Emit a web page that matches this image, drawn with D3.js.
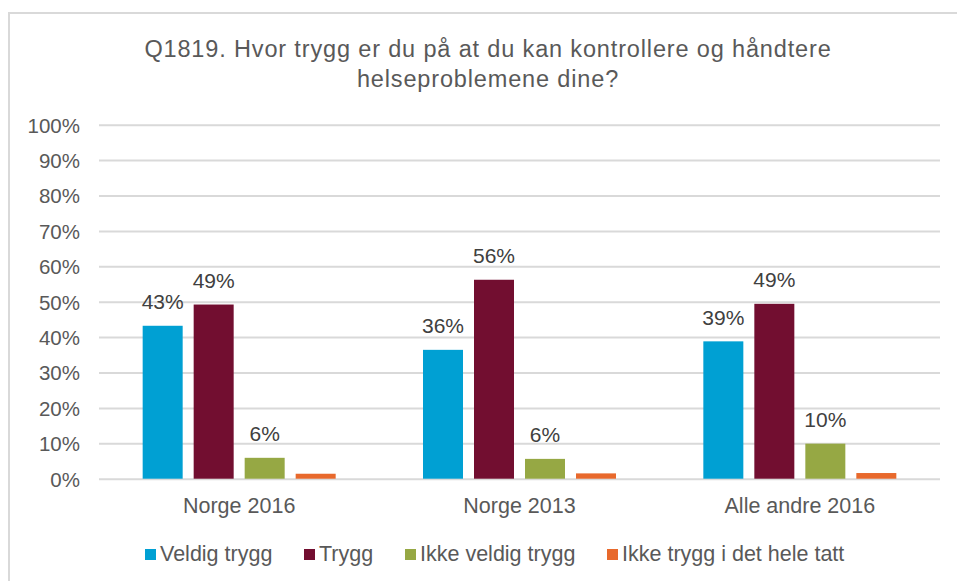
<!DOCTYPE html>
<html><head><meta charset="utf-8">
<script src="https://cdn.jsdelivr.net/npm/d3@7"></script>
<style>body{margin:0;background:#fff}svg{display:block}text{font-family:"Liberation Sans",Arial,sans-serif}</style>
</head><body><svg id="c" width="957" height="581"></svg>
<script>
const categories = ["Norge 2016", "Norge 2013", "Alle andre 2016"];
const seriesNames = ["Veldig trygg", "Trygg", "Ikke veldig trygg", "Ikke trygg i det hele tatt"];
const veldigTrygg = [43.2, 36.4, 38.8];
const trygg = [49.2, 56.2, 49.4];
const ikkeVeldigTrygg = [5.9, 5.6, 9.9];
const ikkeTryggIHele = [1.4, 1.5, 1.6];
const showLabels = [true, true, true, false];
const yTicks = [0,10,20,30,40,50,60,70,80,90,100];
const colors = ["#00A0D3", "#720E30", "#96A844", "#E8692C"];
const titleLines = ["Q1819. Hvor trygg er du på at du kan kontrollere og håndtere", "helseproblemene dine?"];

const series = [veldigTrygg, trygg, ikkeVeldigTrygg, ikkeTryggIHele];
const svg = d3.select("#c");
const L = 99, R = 940, T = 124.7, B = 478.7;

svg.append("rect").attr("x",9).attr("y",13).attr("width",1000).attr("height",700)
  .attr("fill","none").attr("stroke","#d9d9d9").attr("stroke-width",2);

const t = svg.append("text").attr("text-anchor","middle").attr("fill","#595959")
  .attr("font-size",23.5).attr("letter-spacing",0.85);
titleLines.forEach((s,i)=> t.append("tspan").attr("x",488).attr("y",57+i*29.5).text(s));

const y = d3.scaleLinear().domain([0,100]).range([B,T]);
const x0 = d3.scaleBand().domain(categories).range([L,R]).padding(0);
const x1 = d3.scaleBand().domain(seriesNames).range([-102,102]).paddingInner(11/51).paddingOuter(5.5/51);

const g = svg.append("g");
const yAxis = d3.axisLeft(y).tickValues(yTicks).tickSize(-(R-L)).tickFormat(d=>d+"%");
const ya = g.append("g").attr("transform",`translate(${L},0)`).call(yAxis);
ya.select(".domain").remove();
ya.selectAll(".tick line").attr("stroke","#d9d9d9").attr("stroke-width",2);
ya.selectAll(".tick text").attr("x",-19).attr("dy","0.36em").attr("fill","#595959").attr("font-size",20.5);

series.forEach((vals,si)=>{
  const gs = g.append("g");
  gs.selectAll("rect").data(vals).join("rect")
    .attr("x",(d,i)=>x0(categories[i])+x0.bandwidth()/2+x1(seriesNames[si]))
    .attr("width",x1.bandwidth())
    .attr("y",d=>y(d)).attr("height",d=>B-y(d)).attr("fill",colors[si]);
  if(showLabels[si]){
    gs.selectAll("text").data(vals).join("text")
      .attr("x",(d,i)=>x0(categories[i])+x0.bandwidth()/2+x1(seriesNames[si])+x1.bandwidth()/2)
      .attr("y",d=>y(d)-16.5).attr("text-anchor","middle").attr("fill","#404040").attr("font-size",21)
      .text(d=>Math.round(d)+"%");
  }
});

const xa = g.append("g").attr("transform",`translate(0,${B})`).call(d3.axisBottom(x0).tickSize(0));
xa.select(".domain").remove();
xa.selectAll(".tick text").attr("dy",0).attr("y",34).attr("fill","#595959").attr("font-size",21.5);

const legX = [145, 304, 405, 607];
const lg = svg.append("g");
seriesNames.forEach((s,i)=>{
  lg.append("rect").attr("x",legX[i]).attr("y",549).attr("width",11).attr("height",11).attr("fill",colors[i]);
  lg.append("text").attr("x",legX[i]+15).attr("y",561).attr("fill","#595959").attr("font-size",21.5).text(s);
});
</script></body></html>
